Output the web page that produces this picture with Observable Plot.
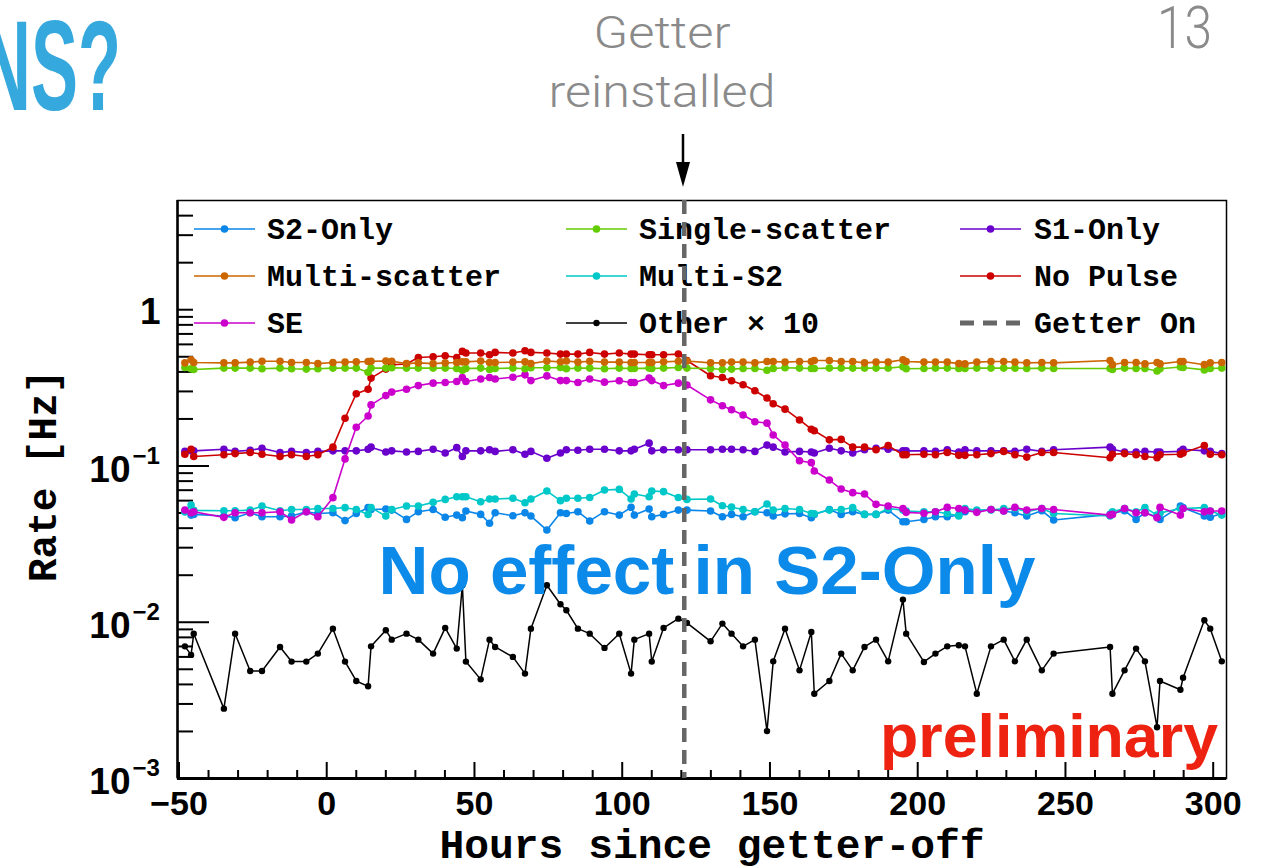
<!DOCTYPE html>
<html><head><meta charset="utf-8">
<script src="https://cdn.jsdelivr.net/npm/d3@7"></script>
<script src="https://cdn.jsdelivr.net/npm/@observablehq/plot@0.6"></script>
<style>
html,body{margin:0;padding:0;background:#fff;overflow:hidden;}
#page{position:relative;width:1267px;height:867px;}
#page > svg{position:absolute;left:0;top:0;}
</style></head><body><div id="page"></div>
<script>
// ---------------- data ----------------
const hours = [-48.0, -45.9, -45.0, -34.8, -31.0, -25.9, -21.9, -15.8, -11.9, -6.9, -3.0,
  2.1, 6.2, 10.0, 14.0, 15.0, 20.0, 22.0, 27.0, 31.0, 36.0, 40.1,
  44.0, 45.9, 47.1, 52.1, 55.1, 57.0, 63.0, 67.1, 69.1, 74.5, 79.1,
  81.1, 85.0, 89.0, 94.0, 99.0, 103.0, 104.1, 109.1, 110.0, 114.0, 119.0,
  121.9, 129.9, 133.9, 137.0, 140.9, 144.9, 149.0, 151.1, 155.1, 160.0, 164.0,
  165.0, 170.1, 174.1, 178.0, 182.0, 185.9, 190.0, 195.0, 196.1, 202.1, 206.0,
  210.0, 213.9, 216.0, 220.0, 224.8, 229.1, 232.9, 236.9, 242.0, 246.0, 265.1,
  265.9, 270.0, 273.9, 276.9, 281.0, 282.0, 288.9, 289.8, 297.0, 299.0, 302.9];

const s2Only = [0.0510, 0.0485, 0.0490, 0.0478, 0.0467, 0.0502, 0.0473, 0.0473, 0.0478, 0.0510, 0.0497,
  0.0502, 0.0447, 0.0497, 0.0541, 0.0527, 0.0530, 0.0522, 0.0455, 0.0510, 0.0527, 0.0470,
  0.0485, 0.0467, 0.0515, 0.0490, 0.0430, 0.0502, 0.0480, 0.0502, 0.0478, 0.0389, 0.0502,
  0.0497, 0.0510, 0.0445, 0.0510, 0.0485, 0.0544, 0.0485, 0.0530, 0.0473, 0.0490, 0.0522,
  0.0522, 0.0515, 0.0473, 0.0490, 0.0473, 0.0510, 0.0502, 0.0478, 0.0494, 0.0497, 0.0467,
  0.0490, 0.0527, 0.0490, 0.0510, 0.0490, 0.0490, 0.0522, 0.0440, 0.0440, 0.0455, 0.0473,
  0.0473, 0.0485, 0.0510, 0.0517, 0.0527, 0.0515, 0.0502, 0.0478, 0.0517, 0.0451, 0.0490,
  0.0497, 0.0517, 0.0455, 0.0502, 0.0473, 0.0455, 0.0554, 0.0541, 0.0478, 0.0470, 0.0497];

const singleScatter = [0.427, 0.419, 0.414, 0.423, 0.423, 0.423, 0.419, 0.423, 0.419, 0.417, 0.419,
  0.423, 0.423, 0.423, 0.398, 0.423, 0.423, 0.425, 0.423, 0.423, 0.423, 0.423,
  0.421, 0.410, 0.421, 0.423, 0.414, 0.421, 0.423, 0.419, 0.425, 0.425, 0.427,
  0.419, 0.423, 0.423, 0.419, 0.423, 0.421, 0.421, 0.423, 0.421, 0.423, 0.427,
  0.423, 0.421, 0.414, 0.417, 0.421, 0.421, 0.410, 0.421, 0.425, 0.423, 0.421,
  0.421, 0.423, 0.423, 0.423, 0.423, 0.423, 0.423, 0.432, 0.419, 0.421, 0.423,
  0.423, 0.421, 0.421, 0.423, 0.423, 0.423, 0.423, 0.421, 0.423, 0.421, 0.421,
  0.414, 0.423, 0.421, 0.421, 0.405, 0.419, 0.430, 0.427, 0.412, 0.421, 0.423];

const s1Only = [0.124, 0.125, 0.125, 0.128, 0.124, 0.126, 0.130, 0.122, 0.124, 0.122, 0.124,
  0.125, 0.125, 0.125, 0.128, 0.132, 0.123, 0.125, 0.123, 0.124, 0.128, 0.121,
  0.131, 0.115, 0.125, 0.125, 0.127, 0.124, 0.127, 0.119, 0.124, 0.112, 0.121,
  0.127, 0.126, 0.128, 0.128, 0.125, 0.125, 0.128, 0.140, 0.125, 0.127, 0.127,
  0.127, 0.127, 0.128, 0.128, 0.127, 0.124, 0.136, 0.132, 0.123, 0.124, 0.123,
  0.121, 0.130, 0.125, 0.121, 0.127, 0.130, 0.128, 0.125, 0.125, 0.125, 0.124,
  0.127, 0.123, 0.127, 0.125, 0.125, 0.125, 0.124, 0.128, 0.124, 0.127, 0.132,
  0.128, 0.123, 0.123, 0.124, 0.123, 0.123, 0.124, 0.128, 0.125, 0.124, 0.120];

const multiScatter = [0.457, 0.478, 0.459, 0.457, 0.457, 0.462, 0.468, 0.468, 0.459, 0.459, 0.452,
  0.459, 0.462, 0.464, 0.466, 0.468, 0.470, 0.468, 0.452, 0.457, 0.452, 0.457,
  0.459, 0.464, 0.464, 0.470, 0.459, 0.459, 0.462, 0.464, 0.452, 0.470, 0.464,
  0.470, 0.462, 0.468, 0.462, 0.462, 0.459, 0.459, 0.459, 0.459, 0.464, 0.468,
  0.470, 0.457, 0.457, 0.462, 0.462, 0.457, 0.466, 0.466, 0.462, 0.466, 0.466,
  0.473, 0.473, 0.466, 0.466, 0.457, 0.462, 0.462, 0.478, 0.466, 0.462, 0.462,
  0.462, 0.452, 0.450, 0.462, 0.466, 0.466, 0.462, 0.457, 0.459, 0.457, 0.473,
  0.445, 0.459, 0.459, 0.450, 0.459, 0.450, 0.466, 0.466, 0.445, 0.457, 0.459];

const multiS2 = [0.0510, 0.0562, 0.0520, 0.0517, 0.0517, 0.0522, 0.0554, 0.0517, 0.0527, 0.0527, 0.0535,
  0.0535, 0.0541, 0.0527, 0.0490, 0.0541, 0.0478, 0.0527, 0.0554, 0.0554, 0.0585, 0.0611,
  0.0635, 0.0635, 0.0635, 0.0590, 0.0615, 0.0615, 0.0621, 0.0582, 0.0615, 0.0691, 0.0600,
  0.0621, 0.0621, 0.0629, 0.0702, 0.0708, 0.0615, 0.0662, 0.0635, 0.0691, 0.0685, 0.0629,
  0.0611, 0.0615, 0.0557, 0.0545, 0.0527, 0.0510, 0.0571, 0.0522, 0.0535, 0.0527, 0.0497,
  0.0494, 0.0522, 0.0527, 0.0541, 0.0490, 0.0490, 0.0535, 0.0522, 0.0515, 0.0510, 0.0510,
  0.0497, 0.0478, 0.0535, 0.0522, 0.0522, 0.0535, 0.0535, 0.0510, 0.0535, 0.0497, 0.0478,
  0.0510, 0.0535, 0.0510, 0.0541, 0.0485, 0.0500, 0.0535, 0.0535, 0.0541, 0.0515, 0.0485];

const noPulse = [0.119, 0.128, 0.115, 0.118, 0.120, 0.122, 0.119, 0.115, 0.118, 0.115, 0.118,
  0.132, 0.202, 0.290, 0.310, 0.365, 0.417, 0.444, 0.449, 0.495, 0.500, 0.507,
  0.495, 0.541, 0.528, 0.528, 0.515, 0.533, 0.528, 0.546, 0.533, 0.528, 0.520,
  0.520, 0.520, 0.533, 0.520, 0.528, 0.520, 0.520, 0.515, 0.515, 0.515, 0.520,
  0.473, 0.378, 0.368, 0.351, 0.331, 0.303, 0.272, 0.250, 0.231, 0.197, 0.172,
  0.168, 0.147, 0.148, 0.132, 0.132, 0.127, 0.135, 0.118, 0.118, 0.119, 0.118,
  0.122, 0.117, 0.117, 0.118, 0.120, 0.124, 0.118, 0.114, 0.122, 0.122, 0.113,
  0.119, 0.120, 0.118, 0.115, 0.113, 0.118, 0.119, 0.121, 0.135, 0.119, 0.118];

const se = [0.0522, 0.0502, 0.0510, 0.0469, 0.0502, 0.0502, 0.0502, 0.0510, 0.0451, 0.0510, 0.0473,
  0.0627, 0.111, 0.177, 0.209, 0.246, 0.282, 0.297, 0.310, 0.327, 0.339, 0.342,
  0.347, 0.368, 0.347, 0.360, 0.368, 0.360, 0.370, 0.383, 0.352, 0.377, 0.352,
  0.352, 0.342, 0.360, 0.344, 0.351, 0.342, 0.342, 0.365, 0.352, 0.327, 0.339,
  0.330, 0.265, 0.243, 0.229, 0.212, 0.192, 0.188, 0.158, 0.136, 0.108, 0.105,
  0.0928, 0.0813, 0.0712, 0.0675, 0.0662, 0.0568, 0.0554, 0.0535, 0.0505, 0.0498, 0.0510,
  0.0543, 0.0535, 0.0522, 0.0505, 0.0527, 0.0515, 0.0543, 0.0522, 0.0535, 0.0527, 0.0485,
  0.0490, 0.0535, 0.0502, 0.0502, 0.0467, 0.0543, 0.0485, 0.0535, 0.0510, 0.0515, 0.0515];

const otherX10 = [0.00701, 0.00618, 0.00845, 0.00280, 0.00845, 0.00488, 0.00488, 0.00695, 0.00560, 0.00560, 0.00630,
  0.00910, 0.00560, 0.00421, 0.00389, 0.00701, 0.00889, 0.00774, 0.00845, 0.00774, 0.00630, 0.00920,
  0.00678, 0.01726, 0.00560, 0.00431, 0.00774, 0.00695, 0.00600, 0.00469, 0.00910, 0.01726, 0.01303,
  0.01193, 0.00910, 0.00845, 0.00685, 0.00845, 0.00469, 0.00774, 0.00845, 0.00560, 0.00920, 0.01054,
  0.00990, 0.00755, 0.00980, 0.00845, 0.00701, 0.00774, 0.00201, 0.00562, 0.00910, 0.00492, 0.00867,
  0.00349, 0.00421, 0.00630, 0.00492, 0.00695, 0.00774, 0.00562, 0.01396, 0.00845, 0.00557, 0.00630,
  0.00701, 0.00712, 0.00701, 0.00349, 0.00701, 0.00774, 0.00562, 0.00774, 0.00492, 0.00630, 0.00695,
  0.00349, 0.00492, 0.00678, 0.00562, 0.00213, 0.00421, 0.00370, 0.00441, 0.01030, 0.00910, 0.00562];

const seriesNames  = ["S2-Only", "Single-scatter", "S1-Only", "Multi-scatter", "Multi-S2", "No Pulse", "SE", "Other × 10"];
const seriesColors = ["#0a86e8", "#63cc00", "#6a00cc", "#cc6600", "#00c8c8", "#cc0000", "#cc00cc", "#000000"];
const seriesValues = [s2Only, singleScatter, s1Only, multiScatter, multiS2, noPulse, se, otherX10];
const drawOrder = ["S2-Only", "Multi-S2", "S1-Only", "SE", "No Pulse", "Single-scatter", "Multi-scatter", "Other × 10"];

const getterOnHour = 121;
const getterLabel = "Getter On";
const xDomain = [-50.5, 304.5];
const yDomain = [1e-3, 5];
const xMajorTicks = [-50, 0, 50, 100, 150, 200, 250, 300];
const xMinorTicks = d3.range(-50, 301, 10).filter(v => v % 50 !== 0);
const yDecadeTicks = [1e-3, 1e-2, 1e-1, 1];
const yDecadeExponents = ["−3", "−2", "−1", ""];
const yLongTicks = [1e-2, 1e-1];
const yShortTicks = [1].concat(d3.range(-3, 1).flatMap(k => d3.range(2, 10).map(m => m * Math.pow(10, k))).filter(v => v < yDomain[1]));

const xTitle = "Hours since getter-off";
const yTitle = "Rate [Hz]";

// ---------------- build ----------------
const page = document.getElementById("page");
const SVGNS = "http://www.w3.org/2000/svg";
function el(tag, attrs, parent, text) {
  const e = document.createElementNS(SVGNS, tag);
  for (const k in attrs) e.setAttribute(k, attrs[k]);
  if (text != null) e.textContent = text;
  if (parent) parent.appendChild(e);
  return e;
}
const colorOf = name => seriesColors[seriesNames.indexOf(name)];

// legend layer (behind the plot so the getter line passes over it)
const legendSvg = el("svg", {width: 1267, height: 867, style: "z-index:1"}, page);
const legendCols = [{x1: 194, x2: 255, t: 267}, {x1: 566, x2: 627, t: 639}, {x1: 960, x2: 1021, t: 1034}];
const legendRows = [229, 276, 323];
const legendEntries = [
  ["S2-Only", "Single-scatter", "S1-Only"],
  ["Multi-scatter", "Multi-S2", "No Pulse"],
  ["SE", "Other × 10", getterLabel]
];
legendEntries.forEach((row, ri) => row.forEach((name, ci) => {
  const c = legendCols[ci], y = legendRows[ri];
  if (name === getterLabel) {
    el("line", {x1: c.x1, x2: c.x2, y1: y, y2: y, stroke: "#666", "stroke-width": 5, "stroke-dasharray": "14,9"}, legendSvg);
  } else {
    const col = colorOf(name);
    el("line", {x1: c.x1, x2: c.x2, y1: y, y2: y, stroke: col, "stroke-width": 1.6}, legendSvg);
    el("circle", {cx: (c.x1 + c.x2) / 2, cy: y, r: name.startsWith("Other") ? 3.2 : 3.8, fill: col}, legendSvg);
  }
  el("text", {x: c.t, y: y + 10, "font-family": "Liberation Mono, Courier New, monospace", "font-weight": "bold", "font-size": 30, fill: "#000"}, legendSvg, name);
}));

// data rows
const rows = seriesNames.flatMap((name, si) => hours.map((h, i) => ({series: name, hour: h, rate: seriesValues[si][i]})));

const seriesMarks = drawOrder.flatMap(name => {
  const data = rows.filter(d => d.series === name);
  const col = colorOf(name);
  const isOther = name.startsWith("Other");
  return [
    Plot.line(data, {x: "hour", y: "rate", stroke: col, strokeWidth: isOther ? 1.5 : 1.6, clip: true}),
    Plot.dot(data, {x: "hour", y: "rate", fill: col, r: isOther ? 3.2 : 3.8, clip: true})
  ];
});

const chart = Plot.plot({
  width: 1267, height: 867,
  marginLeft: 177, marginRight: 41, marginTop: 200, marginBottom: 89,
  style: {background: "transparent", fontFamily: "Liberation Sans, Arial, sans-serif", overflow: "visible"},
  x: {domain: xDomain},
  y: {type: "log", domain: yDomain},
  marks: [
    Plot.frame({stroke: "#000", strokeWidth: 1.5}),
    Plot.ruleY([yDomain[0]], {stroke: "#000", strokeWidth: 3}),
    Plot.ruleX([xDomain[0]], {stroke: "#000", strokeWidth: 2.5}),
    Plot.axisX({ticks: xMajorTicks, tickSize: -16, tickFormat: () => "", label: null, strokeWidth: 2}),
    Plot.axisX({ticks: xMinorTicks, tickSize: -8, tickFormat: () => "", label: null, strokeWidth: 2}),
    Plot.axisY({ticks: yLongTicks, tickSize: -32, tickFormat: () => "", label: null, strokeWidth: 2}),
    Plot.axisY({ticks: yShortTicks, tickSize: -16, tickFormat: () => "", label: null, strokeWidth: 2}),
    ...seriesMarks,
    Plot.ruleX([getterOnHour], {stroke: "#666", strokeWidth: 4.5, strokeDasharray: "14,8"}),
    Plot.axisX({ticks: xMajorTicks, tickSize: 0, tickPadding: 12, label: null, fontSize: 34, fontWeight: "bold", fill: "#000"}),
    Plot.text(yDecadeTicks.filter(v => v !== 1), {y: d => d, text: () => "10", frameAnchor: "left", textAnchor: "end", dx: -47, dy: 4, fontSize: 37, fontWeight: "bold", fill: "#000"}),
    Plot.text(yDecadeTicks.filter(v => v !== 1), {y: d => d, text: d => yDecadeExponents[yDecadeTicks.indexOf(d)], frameAnchor: "left", textAnchor: "start", dx: -45, dy: -10, fontSize: 24, fontWeight: "bold", fill: "#000"}),
    Plot.text([1], {y: d => d, text: () => "1", frameAnchor: "left", textAnchor: "end", dx: -17, dy: 2, fontSize: 37, fontWeight: "bold", fill: "#000"})
  ]
});
chart.style.zIndex = 2;
chart.style.position = "absolute";
chart.style.left = "0px";
chart.style.top = "0px";
chart.style.maxWidth = "none";
page.appendChild(chart);

// annotation layer
const ann = el("svg", {width: 1267, height: 867, style: "z-index:3;pointer-events:none"}, page);
el("text", {x: -20, y: 110, "font-family": "Liberation Sans Narrow, Liberation Sans, Arial", "font-weight": "bold", "font-size": 128, fill: "#35a8dd", textLength: 141, lengthAdjust: "spacingAndGlyphs"}, ann, "NS?");
el("text", {x: 1212, y: 48, "text-anchor": "end", "font-family": "Roboto, Liberation Sans, Arial", "font-weight": 300, "font-size": 60, fill: "#8a8a8a", textLength: 55, lengthAdjust: "spacingAndGlyphs"}, ann, "13");
el("text", {x: 662, y: 48, "text-anchor": "middle", "font-family": "Roboto, Liberation Sans, Arial", "font-weight": 300, "font-size": 44, fill: "#8a8a8a", textLength: 137, lengthAdjust: "spacingAndGlyphs"}, ann, "Getter");
el("text", {x: 662, y: 107, "text-anchor": "middle", "font-family": "Roboto, Liberation Sans, Arial", "font-weight": 300, "font-size": 44, fill: "#8a8a8a", textLength: 227, lengthAdjust: "spacingAndGlyphs"}, ann, "reinstalled");
el("line", {x1: 683, x2: 683, y1: 134, y2: 166, stroke: "#000", "stroke-width": 2.5}, ann);
el("polygon", {points: "676,162 690,162 683,187", fill: "#000"}, ann);
el("text", {x: 707, y: 594, "text-anchor": "middle", "font-family": "Liberation Sans, Arial", "font-weight": "bold", "font-size": 69, fill: "#0b8ae9", textLength: 657, lengthAdjust: "spacingAndGlyphs"}, ann, "No effect in S2-Only");
el("text", {x: 1218, y: 757, "text-anchor": "end", "font-family": "Liberation Sans, Arial", "font-weight": "bold", "font-size": 62, fill: "#ee2211", textLength: 338, lengthAdjust: "spacingAndGlyphs"}, ann, "preliminary");
el("text", {x: 712, y: 858, "text-anchor": "middle", "font-family": "Liberation Mono, Courier New, monospace", "font-weight": "bold", "font-size": 40, fill: "#000", textLength: 545, lengthAdjust: "spacingAndGlyphs"}, ann, xTitle);
el("text", {x: 0, y: 0, transform: "translate(56,476) rotate(-90)", "text-anchor": "middle", "font-family": "Liberation Mono, Courier New, monospace", "font-weight": "bold", "font-size": 40, fill: "#000", textLength: 212, lengthAdjust: "spacingAndGlyphs"}, ann, yTitle);
</script></body></html>
